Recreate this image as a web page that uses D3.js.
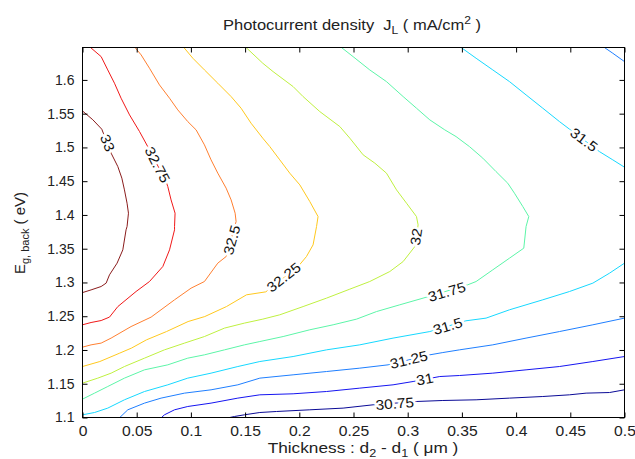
<!DOCTYPE html>
<html>
<head>
<meta charset="utf-8">
<title>Photocurrent density</title>
<script src="https://d3js.org/d3.v7.min.js"></script>
<style>
  body { margin: 0; background: #fff; }
  svg { font-family: "Liberation Sans", Arial, sans-serif; }
  text { white-space: pre; }
</style>
</head>
<body>
<div id="chart"></div>
<script>
// axis ticks
const xTicks = [0, 0.05, 0.1, 0.15, 0.2, 0.25, 0.3, 0.35, 0.4, 0.45, 0.5];
const yTicks = [1.1, 1.15, 1.2, 1.25, 1.3, 1.35, 1.4, 1.45, 1.5, 1.55, 1.6];
const levels = [30.75, 31, 31.25, 31.5, 31.75, 32, 32.25, 32.5, 32.75, 33];

// contour lines, [thickness (um), Eg back (eV)]
const c33 = [[0,1.554],[0.0095,1.541],[0.0178,1.527],[0.0264,1.4915],[0.0326,1.4716],[0.0363,1.4545],[0.0387,1.4371],[0.0411,1.4174],[0.0424,1.4026],[0.0411,1.3828],[0.0402,1.378],[0.0372,1.3483],[0.0319,1.3286],[0.0249,1.3113],[0.0218,1.299],[0.0172,1.294],[0.0079,1.289],[0,1.285]];
const c3275 = [[0.0074,1.648],[0.0172,1.6345],[0.0233,1.6148],[0.0295,1.5951],[0.0356,1.5729],[0.0434,1.5482],[0.0526,1.5235],[0.0602,1.5012],[0.0771,1.4494],[0.0787,1.442],[0.0817,1.4223],[0.0854,1.4026],[0.0849,1.3828],[0.0849,1.378],[0.0803,1.3483],[0.0741,1.3236],[0.0618,1.3014],[0.0494,1.2866],[0.0326,1.2643],[0.0249,1.2487],[0.0172,1.2436],[0.0079,1.2407],[0,1.2373]];
const c325 = [[0.0485,1.648],[0.0541,1.637],[0.0618,1.6173],[0.071,1.5926],[0.0803,1.5729],[0.0879,1.5556],[0.0971,1.5383],[0.1048,1.526],[0.1125,1.5038],[0.1186,1.4816],[0.1248,1.4619],[0.1325,1.4397],[0.1371,1.4223],[0.1408,1.4026],[0.1417,1.3902],[0.1325,1.3384],[0.1248,1.3286],[0.1125,1.3014],[0.1002,1.2916],[0.0849,1.2743],[0.0633,1.2487],[0.0448,1.2347],[0.0264,1.2176],[0.0172,1.2102],[0.0079,1.2076],[0,1.2042]];
const c3225 = [[0.0935,1.648],[0.1018,1.6321],[0.1125,1.6148],[0.1248,1.5951],[0.1371,1.5753],[0.1463,1.5581],[0.1555,1.5359],[0.1663,1.5137],[0.1728,1.5012],[0.182,1.4816],[0.1912,1.4619],[0.2005,1.4445],[0.2097,1.4198],[0.2173,1.3976],[0.2159,1.3828],[0.2127,1.3557],[0.2066,1.3384],[0.1989,1.3236],[0.1691,1.2861],[0.1513,1.2817],[0.1328,1.2643],[0.1128,1.2495],[0.0974,1.2421],[0.0775,1.2273],[0.059,1.215],[0.0452,1.2028],[0.0344,1.1954],[0.016,1.1829],[0,1.1755]];
const c32 = [[0.1509,1.648],[0.1663,1.6247],[0.1758,1.6123],[0.1943,1.5901],[0.2035,1.5753],[0.2189,1.5531],[0.2374,1.5309],[0.2466,1.5137],[0.2589,1.489],[0.2697,1.4767],[0.2804,1.4619],[0.2897,1.4371],[0.2989,1.4174],[0.3081,1.3976],[0.3096,1.3853],[0.3066,1.3532],[0.2958,1.331],[0.2835,1.3162],[0.265,1.3014],[0.2466,1.2901],[0.2251,1.2768],[0.2035,1.2643],[0.182,1.2521],[0.1663,1.2457],[0.1494,1.2398],[0.131,1.2324],[0.1125,1.2199],[0.0941,1.2102],[0.0756,1.2002],[0.0572,1.1879],[0.0387,1.1755],[0.0264,1.1657],[0.0141,1.1583],[0,1.1509]];
const c3175 = [[0.2389,1.648],[0.2496,1.6345],[0.265,1.6148],[0.2804,1.5975],[0.2958,1.5753],[0.3081,1.5581],[0.3204,1.5408],[0.3342,1.526],[0.3446,1.5161],[0.357,1.5012],[0.3693,1.4841],[0.3815,1.4642],[0.3923,1.447],[0.3985,1.4322],[0.4062,1.4124],[0.4117,1.3976],[0.4092,1.3828],[0.4071,1.3508],[0.3939,1.336],[0.3785,1.3187],[0.3631,1.3014],[0.3554,1.2965],[0.3142,1.2768],[0.2927,1.2669],[0.2712,1.2569],[0.2528,1.2457],[0.2312,1.2373],[0.2097,1.2299],[0.1851,1.2199],[0.1636,1.2125],[0.1494,1.2076],[0.131,1.2002],[0.1125,1.1928],[0.0971,1.1879],[0.0787,1.178],[0.0572,1.1706],[0.0387,1.1583],[0.0233,1.1459],[0.0111,1.1361],[0,1.1272]];
const c315top = [[0.3493,1.648],[0.3631,1.6321],[0.3785,1.6148],[0.3939,1.5975],[0.4092,1.5778],[0.4246,1.5581],[0.44,1.5383],[0.4493,1.527],[0.4769,1.4938],[0.4892,1.4816],[0.5,1.4707]];
const c315 = [[0.5,1.3286],[0.4862,1.3138],[0.4708,1.299],[0.4493,1.2866],[0.4246,1.2743],[0.3939,1.2595],[0.3723,1.2472],[0.3536,1.2432],[0.3204,1.2273],[0.2865,1.2176],[0.2558,1.2076],[0.2251,1.2002],[0.1943,1.1903],[0.1636,1.1829],[0.1433,1.1755],[0.1186,1.1657],[0.0971,1.1583],[0.0787,1.1484],[0.0572,1.1385],[0.0387,1.1262],[0.0233,1.1139],[0.0111,1.1074],[0,1.104]];
const c3125top = [[0.4815,1.648],[0.4892,1.6395],[0.5,1.6271]];
const c3125 = [[0.5,1.2472],[0.4708,1.2373],[0.44,1.2273],[0.4092,1.2176],[0.3785,1.2076],[0.3478,1.2002],[0.3324,1.1962],[0.3204,1.1928],[0.2819,1.178],[0.2558,1.1731],[0.2251,1.1681],[0.1943,1.1632],[0.1636,1.1583],[0.1433,1.1484],[0.1186,1.141],[0.0941,1.1361],[0.0725,1.1287],[0.0572,1.1213],[0.0418,1.1114],[0.0344,1.1]];
const c31 = [[0.5,1.1903],[0.4708,1.1829],[0.44,1.1755],[0.4092,1.1706],[0.3785,1.1657],[0.3478,1.1622],[0.3296,1.1607],[0.305,1.1533],[0.2865,1.1484],[0.2558,1.1435],[0.2251,1.1385],[0.1943,1.1351],[0.1636,1.1336],[0.1433,1.1287],[0.1186,1.1213],[0.0971,1.1163],[0.0849,1.1114],[0.0756,1.104],[0.0729,1.1]];
const c3075 = [[0.5,1.141],[0.4862,1.137],[0.4646,1.1361],[0.4493,1.1336],[0.4246,1.1311],[0.3939,1.1287],[0.3631,1.1262],[0.3324,1.1252],[0.3081,1.1237],[0.2681,1.1188],[0.2404,1.1139],[0.2097,1.1114],[0.179,1.1089],[0.1636,1.1074],[0.1494,1.104],[0.1402,1.1015],[0.1359,1.1]];

// inline contour labels: level and where it sits
const labelLevel = [33, 32.75, 32.5, 32.25, 32, 31.75, 31.5, 31.5, 31.25, 31, 30.75];
const labelX = [0.0229, 0.069, 0.1379, 0.1857, 0.308, 0.3361, 0.4625, 0.337, 0.301, 0.3158, 0.2881];
const labelY = [1.5067, 1.4741, 1.363, 1.3076, 1.3675, 1.2859, 1.5112, 1.2351, 1.1854, 1.1566, 1.1203];

const contours = [
  {level: 33, pts: c33},
  {level: 32.75, pts: c3275},
  {level: 32.5, pts: c325},
  {level: 32.25, pts: c3225},
  {level: 32, pts: c32},
  {level: 31.75, pts: c3175},
  {level: 31.5, pts: c315top},
  {level: 31.5, pts: c315},
  {level: 31.25, pts: c3125top},
  {level: 31.25, pts: c3125},
  {level: 31, pts: c31},
  {level: 30.75, pts: c3075}
];

const W = 635, H = 459;
const x = d3.scaleLinear().domain([0, 0.5]).range([82.5, 624.5]);
const y = d3.scaleLinear().domain([1.1, 1.648]).range([417.5, 47.5]);

// jet-like colours for the levels
const color = d3.scaleOrdinal()
  .domain(levels)
  .range(["#0a0a96", "#1515f0", "#1f7fff", "#16d8ff", "#5cf5a8",
          "#bff040", "#ffc81e", "#ff7f30", "#f01818", "#8a1c1c"]);

const svg = d3.select("#chart").append("svg")
  .attr("width", W)
  .attr("height", H);

svg.append("defs").append("clipPath").attr("id", "plotclip")
  .append("rect")
  .attr("x", x(0)).attr("y", y(1.648))
  .attr("width", x(0.5) - x(0)).attr("height", y(1.1) - y(1.648));

const plot = svg.append("g").attr("clip-path", "url(#plotclip)");

const line = d3.line()
  .x(d => x(d[0]))
  .y(d => y(d[1]));

plot.selectAll("path.contour")
  .data(contours)
  .join("path")
  .attr("class", "contour")
  .attr("d", d => line(d.pts))
  .attr("fill", "none")
  .attr("stroke", d => color(d.level))
  .attr("stroke-width", 1);

// angle of the contour under a label, in screen space
function labelAngle(lv, px, py) {
  let best = [1, 0], bd = Infinity;
  contours.filter(c => c.level === lv).forEach(c => {
    for (let i = 0; i < c.pts.length - 1; i++) {
      const ax = x(c.pts[i][0]), ay = y(c.pts[i][1]);
      const bx = x(c.pts[i + 1][0]), by = y(c.pts[i + 1][1]);
      const dx = bx - ax, dy = by - ay;
      let t = ((px - ax) * dx + (py - ay) * dy) / (dx * dx + dy * dy);
      t = Math.max(0, Math.min(1, t));
      const d = Math.hypot(ax + t * dx - px, ay + t * dy - py);
      if (d < bd) { bd = d; best = [dx, dy]; }
    }
  });
  let a = Math.atan2(best[1], best[0]) * 180 / Math.PI;
  if (a > 90) a -= 180;
  if (a < -90) a += 180;
  return a;
}

const labels = labelLevel.map((lv, i) => ({lv, px: x(labelX[i]), py: y(labelY[i])}));

plot.selectAll("text.clabel")
  .data(labels)
  .join("text")
  .attr("class", "clabel")
  .attr("transform", d => `translate(${d.px},${d.py}) rotate(${labelAngle(d.lv, d.px, d.py)}) scale(1.1,1)`)
  .attr("text-anchor", "middle")
  .attr("dominant-baseline", "central")
  .attr("font-size", 14)
  .attr("fill", "#111")
  .attr("stroke", "#fff")
  .attr("stroke-width", 5)
  .attr("stroke-linejoin", "round")
  .attr("paint-order", "stroke")
  .text(d => String(d.lv));

// axes, ticks pointing inwards on all four sides
function styleAxis(g) {
  g.select(".domain").remove();
  g.selectAll(".tick line").attr("stroke", "#000");
  g.selectAll("text").attr("font-size", 14).attr("fill", "#222")
    .attr("font-family", "Liberation Sans, Arial, sans-serif");
}

svg.append("g")
  .attr("transform", `translate(0,${y(1.1)})`)
  .call(d3.axisBottom(x).tickValues(xTicks).tickSize(-5).tickPadding(9).tickFormat(d => d))
  .call(styleAxis)
  .call(g => g.selectAll("text").attr("transform", "scale(1.12,1)"));

svg.append("g")
  .attr("transform", `translate(${x(0)},0)`)
  .call(d3.axisLeft(y).tickValues(yTicks).tickSize(-5).tickPadding(8).tickFormat(d => d))
  .call(styleAxis);

svg.append("g")
  .attr("transform", `translate(0,${y(1.648)})`)
  .call(d3.axisTop(x).tickValues(xTicks).tickSize(-5).tickFormat(""))
  .call(styleAxis);

svg.append("g")
  .attr("transform", `translate(${x(0.5)},0)`)
  .call(d3.axisRight(y).tickValues(yTicks).tickSize(-5).tickFormat(""))
  .call(styleAxis);

svg.append("rect")
  .attr("x", x(0)).attr("y", y(1.648))
  .attr("width", x(0.5) - x(0)).attr("height", y(1.1) - y(1.648))
  .attr("fill", "none")
  .attr("stroke", "#000")
  .attr("stroke-width", 1);

// title
const title = svg.append("text")
  .attr("transform", "translate(352,30) scale(1.1,1)")
  .attr("text-anchor", "middle")
  .attr("font-size", 15)
  .attr("fill", "#222");
title.append("tspan").text("Photocurrent density  J");
title.append("tspan").attr("font-size", 11).attr("dy", 4).text("L");
title.append("tspan").attr("dy", -4).text(" ( mA/cm");
title.append("tspan").attr("font-size", 11).attr("dy", -6).text("2");
title.append("tspan").attr("dy", 6).text(" )");

// x label
const xl = svg.append("text")
  .attr("transform", "translate(363,453) scale(1.15,1)")
  .attr("text-anchor", "middle")
  .attr("font-size", 15)
  .attr("fill", "#222");
xl.append("tspan").text("Thickness : d");
xl.append("tspan").attr("font-size", 11).attr("dy", 4).text("2");
xl.append("tspan").attr("dy", -4).text(" - d");
xl.append("tspan").attr("font-size", 11).attr("dy", 4).text("1");
xl.append("tspan").attr("dy", -4).text(" ( μm )");

// y label
const yl = svg.append("text")
  .attr("transform", "translate(25,233) rotate(-90)")
  .attr("text-anchor", "middle")
  .attr("font-size", 15)
  .attr("fill", "#222");
yl.append("tspan").text("E");
yl.append("tspan").attr("font-size", 11).attr("dy", 4).text("g, back");
yl.append("tspan").attr("dy", -4).text(" ( eV)");
</script>
</body>
</html>
